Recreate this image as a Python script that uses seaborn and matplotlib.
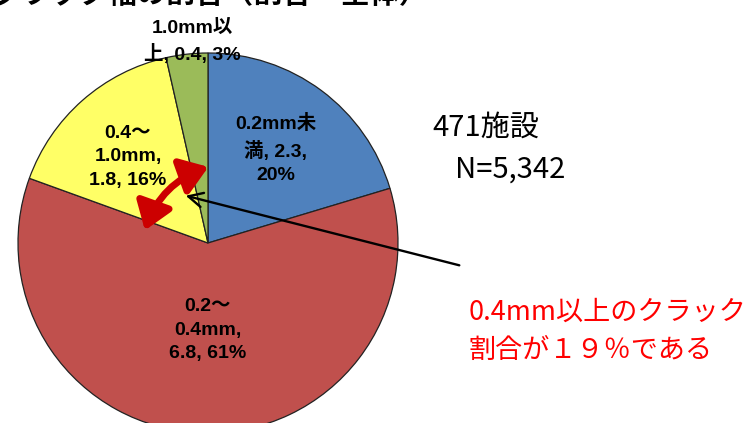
import numpy as np
import matplotlib.pyplot as plt
import seaborn as sns
from matplotlib.patches import FancyArrowPatch

sns.set_theme(style="white")
plt.rcParams['font.family'] = ['Noto Sans CJK JP', 'DejaVu Sans']

# data
categories = ["0.2mm未満", "0.2～\n0.4mm", "0.4～\n1.0mm", "1.0mm以\n上"]
values = [2.3, 6.8, 1.8, 0.4]
percents = [20, 61, 16, 3]
colors = ["#4F81BD", "#C0504D", "#FFFF66", "#9BBB59"]
label_texts = ["0.2mm未\n満, 2.3,\n20%",
               "0.2～\n0.4mm,\n6.8, 61%",
               "0.4～\n1.0mm,\n1.8, 16%",
               "1.0mm以\n上, 0.4, 3%"]

W, H = 753, 423
fig = plt.figure(figsize=(W / 100, H / 100), dpi=100)

# pie centre / radius in pixels (from top-left)
cx, cy, r = 208, 243, 190
ax = fig.add_axes([(cx - r) / W, (H - cy - r) / H, 2 * r / W, 2 * r / H])
wedges, _ = ax.pie(values, colors=colors, startangle=90, counterclock=False,
                   wedgeprops=dict(edgecolor="#222222", linewidth=0.9))
ax.set_xlim(-1, 1)
ax.set_ylim(-1, 1)
ax.set_aspect("equal")
ax.axis("off")


def px(x, y):
    return (x, H - y)


label_font = ['Liberation Sans', 'Noto Sans CJK JP']

# slice labels (pixel positions)
label_pos = [(276, 149), (208, 330), (128, 157), (192, 42)]
spacing = [1.5, 1.5, 1.5, 1.45]
for txt, (lx, ly), ls in zip(label_texts, label_pos, spacing):
    fig.text(lx / W, (H - ly) / H, txt, ha="center", va="center",
             fontsize=14, fontweight="bold", color="black",
             linespacing=ls, family=label_font)

# partially visible title at the top
fig.text(-8 / W, (H + 6) / H, "クラック幅の割合（割合・全体）", ha="left",
         va="center", fontsize=21, fontweight="bold", color="black")

fig.text(432 / W, (H - 128) / H, "471施設", ha="left", va="center",
         fontsize=21, color="black")
fig.text(455 / W, (H - 170) / H, "N=5,342", ha="left", va="center",
         fontsize=21, color="black")
fig.text(469 / W, (H - 312) / H, "0.4mm以上のクラック", ha="left",
         va="center", fontsize=19.5, color="#FF0000")
fig.text(469 / W, (H - 350) / H, "割合が１９％である", ha="left",
         va="center", fontsize=19.5, color="#FF0000")

# black pointer arrow
fig.patches.append(FancyArrowPatch(px(462, 266), px(183, 195),
                                   transform=None, arrowstyle="->",
                                   mutation_scale=26, color="black", lw=1.7))

# red curved double arrow
fig.patches.append(FancyArrowPatch(px(211, 166), px(144, 233),
                                   transform=None,
                                   connectionstyle="arc3,rad=0.25",
                                   arrowstyle="<|-|>,head_length=1.0,head_width=0.7",
                                   mutation_scale=16, color="#CC0000", lw=5))

fig.savefig("out.png", dpi=100)
